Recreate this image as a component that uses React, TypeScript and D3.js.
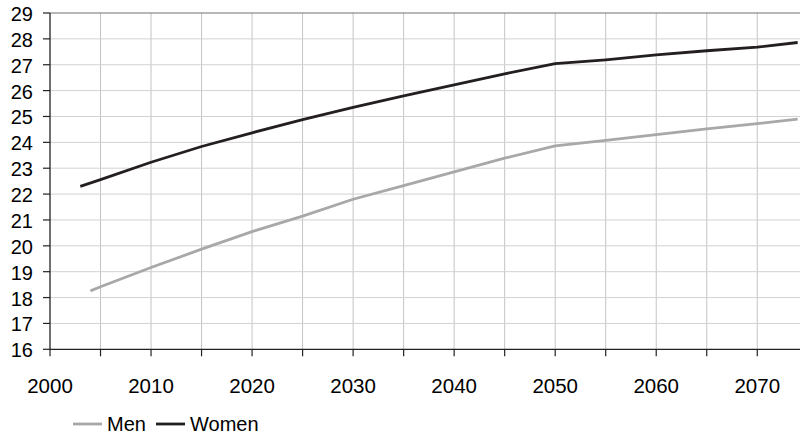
import React, { useEffect, useRef } from "react";
import * as d3 from "d3";

const womenYears = [2003, 2005, 2010, 2015, 2020, 2025, 2030, 2035, 2040, 2045, 2050, 2055, 2060, 2065, 2070, 2074];
const womenValues = [22.3, 22.56, 23.23, 23.84, 24.37, 24.88, 25.35, 25.8, 26.22, 26.65, 27.04, 27.19, 27.38, 27.54, 27.68, 27.86];

const menYears = [2004, 2005, 2010, 2015, 2020, 2025, 2030, 2035, 2040, 2045, 2050, 2055, 2060, 2065, 2070, 2074];
const menValues = [18.26, 18.42, 19.16, 19.87, 20.55, 21.15, 21.8, 22.33, 22.86, 23.39, 23.86, 24.08, 24.3, 24.52, 24.72, 24.9];

const yTicks = [16, 17, 18, 19, 20, 21, 22, 23, 24, 25, 26, 27, 28, 29];
const xLabelTicks = [2000, 2010, 2020, 2030, 2040, 2050, 2060, 2070];
const xMinorTicks = [2000, 2005, 2010, 2015, 2020, 2025, 2030, 2035, 2040, 2045, 2050, 2055, 2060, 2065, 2070];

const seriesNames = ["Men", "Women"];

export default function App() {
  const ref = useRef<SVGSVGElement | null>(null);

  useEffect(() => {
    document.body.style.margin = "0";
    const svg = d3.select(ref.current);
    svg.selectAll("*").remove();

    const W = 800, H = 437;
    const left = 50, right = 800, top = 13, bottom = 349.3;
    const x = d3.scaleLinear().domain([2000, 2074.23]).range([left, right]);
    const y = d3.scaleLinear().domain([16, 29]).range([bottom, top]);
    const font = "Liberation Sans, Arial, sans-serif";

    svg.append("rect").attr("width", W).attr("height", H).attr("fill", "#fff");

    // vertical grid
    svg.append("g").selectAll("line").data(xMinorTicks.filter(d => d > 2000)).join("line")
      .attr("x1", d => x(d)).attr("x2", d => x(d))
      .attr("y1", top).attr("y2", bottom)
      .attr("stroke", "#c4c4c4").attr("stroke-width", 1);

    // horizontal grid
    svg.append("g").selectAll("line").data(yTicks.filter(d => d > 16)).join("line")
      .attr("x1", left).attr("x2", right)
      .attr("y1", d => y(d)).attr("y2", d => y(d))
      .attr("stroke", d => (d === 29 ? "#707070" : "#d2d2d2")).attr("stroke-width", d => (d === 29 ? 1.2 : 1));

    // axes
    svg.append("line").attr("x1", left).attr("x2", left).attr("y1", top).attr("y2", bottom)
      .attr("stroke", "#222").attr("stroke-width", 1.3);
    svg.append("line").attr("x1", left).attr("x2", right).attr("y1", bottom).attr("y2", bottom)
      .attr("stroke", "#222").attr("stroke-width", 1.3);

    // y ticks
    svg.append("g").selectAll("line").data(yTicks).join("line")
      .attr("x1", left - 7).attr("x2", left)
      .attr("y1", d => y(d)).attr("y2", d => y(d))
      .attr("stroke", "#222").attr("stroke-width", 1.2);
    svg.append("g").selectAll("text").data(yTicks).join("text")
      .attr("x", 33).attr("y", d => y(d) + 8)
      .attr("text-anchor", "end")
      .attr("font-family", font).attr("font-size", 20).attr("fill", "#000")
      .text(d => String(d));

    // x ticks
    svg.append("g").selectAll("line").data(xMinorTicks).join("line")
      .attr("x1", d => x(d)).attr("x2", d => x(d))
      .attr("y1", bottom).attr("y2", bottom + 7)
      .attr("stroke", "#222").attr("stroke-width", 1.2);
    svg.append("g").selectAll("text").data(xLabelTicks).join("text")
      .attr("x", d => x(d)).attr("y", 393)
      .attr("text-anchor", "middle")
      .attr("font-family", font).attr("font-size", 20.5).attr("fill", "#000")
      .text(d => String(d));

    const line = d3.line<[number, number]>().x(d => x(d[0])).y(d => y(d[1]));
    const men: [number, number][] = menYears.map((yr, i) => [yr, menValues[i]]);
    const women: [number, number][] = womenYears.map((yr, i) => [yr, womenValues[i]]);

    svg.append("path").attr("d", line(men) as string).attr("fill", "none")
      .attr("stroke", "#a8a8a8").attr("stroke-width", 2.8).attr("stroke-linejoin", "round");
    svg.append("path").attr("d", line(women) as string).attr("fill", "none")
      .attr("stroke", "#231f20").attr("stroke-width", 2.8).attr("stroke-linejoin", "round");

    // legend
    const colors = ["#a8a8a8", "#231f20"];
    const lx = [73, 156];
    seriesNames.forEach((name, i) => {
      svg.append("line").attr("x1", lx[i]).attr("x2", lx[i] + 29).attr("y1", 424).attr("y2", 424)
        .attr("stroke", colors[i]).attr("stroke-width", 2.8);
      svg.append("text").attr("x", lx[i] + 34).attr("y", 431)
        .attr("font-family", font).attr("font-size", 20).attr("fill", "#000")
        .text(name);
    });
  }, []);

  return <svg ref={ref} width={800} height={437} style={{ display: "block" }} />;
}
